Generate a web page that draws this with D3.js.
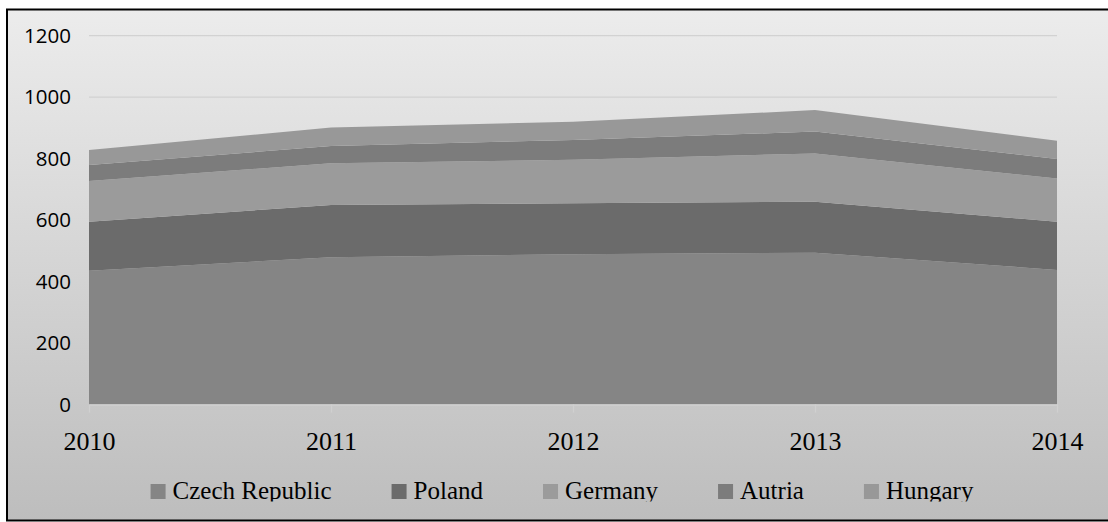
<!DOCTYPE html>
<html><head><meta charset="utf-8">
<script src="https://cdn.jsdelivr.net/npm/d3@7"></script>
<style>html,body{margin:0;padding:0;background:#fff;}svg{display:block;}</style>
</head><body>
<script>
const years = ["2010","2011","2012","2013","2014"];
const seriesNames = ["Czech Republic","Poland","Germany","Autria","Hungary"];
const czech   = [435, 479, 489, 494, 438];
const poland  = [160, 170, 166, 166, 157];
const germany = [132, 136, 141, 157, 140];
const autria  = [52, 56, 65, 71, 64];
const hungary = [49, 60, 59, 70, 59];
const yTicks = [0, 200, 400, 600, 800, 1000, 1200];
const colors = ["#858585","#6b6b6b","#9b9b9b","#7c7c7c","#989898"];

const W = 1108, H = 522;
const svg = d3.select("body").append("svg").attr("width", W).attr("height", H);
const defs = svg.append("defs");
const grad = defs.append("linearGradient").attr("id","bg").attr("x1",0).attr("y1",0).attr("x2",0).attr("y2",1);
grad.append("stop").attr("offset","0%").attr("stop-color","#ececec");
grad.append("stop").attr("offset","100%").attr("stop-color","#bdbdbd");
defs.append("clipPath").attr("id","legclip").append("rect").attr("x",0).attr("y",460).attr("width",W).attr("height",41.5);

svg.append("rect").attr("x",7).attr("y",9.5).attr("width",1110).attr("height",511)
  .attr("fill","url(#bg)").attr("stroke","#000").attr("stroke-width",2);

const x = d3.scalePoint().domain(years).range([89, 1057]);
const y = d3.scaleLinear().domain([0, 1200]).range([404.5, 35.7]);

// gridlines
svg.append("g").selectAll("line").data(yTicks.filter(d => d > 0)).join("line")
  .attr("x1", 89).attr("x2", 1057).attr("y1", d => y(d)).attr("y2", d => y(d))
  .attr("stroke", "#d2d2d2").attr("stroke-width", 1.3);

// stacked data
const table = years.map((yr, i) => ({year: yr, "Czech Republic": czech[i], "Poland": poland[i], "Germany": germany[i], "Autria": autria[i], "Hungary": hungary[i]}));
const stack = d3.stack().keys(seriesNames)(table);
const area = d3.area().x(d => x(d.data.year)).y0(d => y(d[0])).y1(d => y(d[1]));
svg.append("g").selectAll("path").data(stack).join("path")
  .attr("d", area).attr("fill", (d, i) => colors[i]);

// x axis
const xAxis = svg.append("g").attr("transform", `translate(0,${y(0)})`)
  .call(d3.axisBottom(x).tickSize(8).tickSizeOuter(0).tickPadding(20));
xAxis.select(".domain").attr("stroke", "#d0d0d0").attr("stroke-width", 1.3);
xAxis.selectAll(".tick line").attr("stroke", "#d0d0d0").attr("stroke-width", 1.3);
xAxis.selectAll(".tick text").attr("fill", "#000").attr("font-family", "'Liberation Serif', 'Times New Roman', serif")
  .attr("font-size", 26).attr("dy", null).attr("y", 45.5);

// y axis labels
const yAxis = svg.append("g").attr("transform", "translate(71,0)")
  .call(d3.axisLeft(y).tickValues(yTicks).tickSize(0).tickPadding(0).tickFormat(d3.format("d")));
yAxis.select(".domain").remove();
yAxis.selectAll(".tick text").attr("fill", "#000").attr("font-family", "'Open Sans', sans-serif").attr("font-size", 20.5).attr("x", 0);

// legend
const leg = svg.append("g").attr("clip-path", "url(#legclip)");
const items = leg.selectAll("g").data(seriesNames).join("g");
items.append("rect").attr("width", 15).attr("height", 15).attr("y", 484).attr("fill", (d, i) => colors[i]);
const texts = items.append("text").text(d => d).attr("x", 22).attr("y", 498.5)
  .attr("font-family", "'Liberation Serif', 'Times New Roman', serif").attr("font-size", 25).attr("fill", "#000");
const widths = texts.nodes().map(n => n.getComputedTextLength());
const gap = 60;
const total = widths.reduce((a, w) => a + 22 + w, 0) + gap * (widths.length - 1);
let cx = 562 - total / 2;
items.each(function(d, i) {
  d3.select(this).attr("transform", `translate(${cx},0)`);
  cx += 22 + widths[i] + gap;
});
</script>
</body></html>
